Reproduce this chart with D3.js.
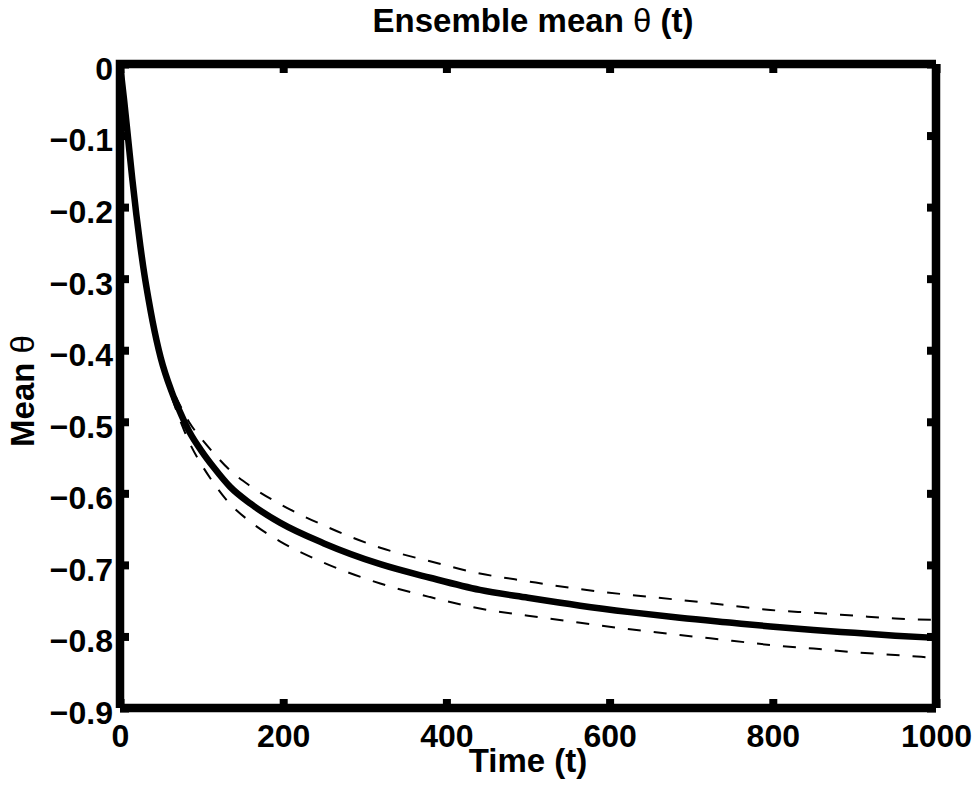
<!DOCTYPE html>
<html>
<head>
<meta charset="utf-8">
<script src="https://cdn.jsdelivr.net/npm/d3@7"></script>
<style>
  html, body { margin: 0; padding: 0; background: #fff; }
  text { font-family: "Liberation Sans", Arial, sans-serif; }
</style>
</head>
<body>
<svg id="chart" width="975" height="791"></svg>
<script>
// ---- data ----
const time = [0, 5, 10, 15, 20, 25, 30, 35, 40, 50, 63, 75, 85, 100, 115, 135, 160, 196, 250, 319, 380, 441, 500, 564, 625, 686, 750, 797, 850, 900, 950, 1000];
const meanTheta = [0, -0.05, -0.105, -0.16, -0.21, -0.255, -0.295, -0.329, -0.36, -0.411, -0.457, -0.490, -0.514, -0.541, -0.564, -0.591, -0.6145, -0.641, -0.670, -0.699, -0.718, -0.735, -0.746, -0.757, -0.766, -0.774, -0.781, -0.786, -0.791, -0.795, -0.799, -0.802];
const upperTheta = [0, -0.05, -0.105, -0.16, -0.21, -0.255, -0.295, -0.329, -0.359, -0.408, -0.451, -0.480, -0.501, -0.524, -0.544, -0.568, -0.590, -0.615, -0.645, -0.676, -0.695, -0.712, -0.723, -0.734, -0.742, -0.749, -0.757, -0.763, -0.767, -0.771, -0.775, -0.777];
const lowerTheta = [0, -0.05, -0.105, -0.16, -0.21, -0.255, -0.295, -0.329, -0.361, -0.414, -0.464, -0.502, -0.529, -0.560, -0.586, -0.615, -0.640, -0.667, -0.697, -0.726, -0.745, -0.761, -0.771, -0.781, -0.790, -0.798, -0.806, -0.812, -0.817, -0.822, -0.826, -0.830];
const xTicks = [0, 200, 400, 600, 800, 1000];
const yTicks = [0, -0.1, -0.2, -0.3, -0.4, -0.5, -0.6, -0.7, -0.8, -0.9];

const svg = d3.select("#chart");
const L = 120, R = 936, T = 64, B = 708;
const x = d3.scaleLinear().domain([0, 1000]).range([L, R]);
const y = d3.scaleLinear().domain([-0.9, 0]).range([B, T]);

// curves
const line = d3.line().x(d => x(d[0])).y(d => y(d[1])).curve(d3.curveMonotoneX);
const zip = arr => time.map((t, i) => [t, arr[i]]);

svg.append("path").datum(zip(upperTheta)).attr("d", line)
  .attr("fill", "none").attr("stroke", "#000").attr("stroke-width", 2).attr("stroke-dasharray", "13,13");
svg.append("path").datum(zip(lowerTheta)).attr("d", line)
  .attr("fill", "none").attr("stroke", "#000").attr("stroke-width", 2).attr("stroke-dasharray", "13,13");
svg.append("path").datum(zip(meanTheta)).attr("d", line)
  .attr("fill", "none").attr("stroke", "#000").attr("stroke-width", 6.5).attr("stroke-linejoin", "round");

// axes with inward ticks (MATLAB style box)
const tickLen = 9;
const fmtY = d3.format(".1f");
const axB = d3.axisBottom(x).tickValues(xTicks).tickSize(-tickLen).tickPadding(16).tickFormat(d3.format("d"));
const axT = d3.axisTop(x).tickValues(xTicks).tickSize(-tickLen).tickFormat("");
const axL = d3.axisLeft(y).tickValues(yTicks).tickSize(-tickLen).tickPadding(7).tickFormat(d => d === 0 ? "0" : fmtY(d));
const axR = d3.axisRight(y).tickValues(yTicks).tickSize(-tickLen).tickFormat("");

function styleAxis(g) {
  g.select(".domain").remove();
  g.selectAll(".tick line").attr("stroke", "#000").attr("stroke-width", 8).attr("stroke-linecap", "butt");
  g.selectAll(".tick text").attr("fill", "#000").attr("font-size", 32).attr("font-weight", "bold")
    .attr("font-family", "'Liberation Sans', Arial, sans-serif");
}
svg.append("g").attr("transform", `translate(0,${B})`).call(axB).call(styleAxis);
svg.append("g").attr("transform", `translate(0,${T})`).call(axT).call(styleAxis);
svg.append("g").attr("transform", `translate(${L},0)`).call(axL).call(styleAxis)
  .selectAll(".tick text").attr("dy", "0.48em");
svg.append("g").attr("transform", `translate(${R},0)`).call(axR).call(styleAxis);

// frame lines (butt caps)
const frame = [
  [L, T, R, T], [R, T, R, B], [L, B, R, B], [L, T, L, B]
];
svg.append("g").selectAll("line").data(frame).join("line")
  .attr("x1", d => d[0]).attr("y1", d => d[1]).attr("x2", d => d[2]).attr("y2", d => d[3])
  .attr("stroke", "#000").attr("stroke-width", 8.5).attr("stroke-linecap", "butt");
svg.append("rect").attr("x", L - 4.25).attr("y", T - 4.25).attr("width", 4.25).attr("height", 4.25).attr("fill", "#000");

// title
const title = svg.append("text").attr("x", 533).attr("y", 32).attr("text-anchor", "middle")
  .attr("font-size", 33).attr("font-weight", "bold");
title.append("tspan").text("Ensemble mean ");
title.append("tspan").attr("font-weight", "normal").text("θ");
title.append("tspan").text(" (t)");

// x label
svg.append("text").attr("x", 528).attr("y", 772).attr("text-anchor", "middle")
  .attr("font-size", 33).attr("font-weight", "bold").text("Time (t)");

// y label
const yl = svg.append("text").attr("transform", "translate(34,391) rotate(-90)").attr("text-anchor", "middle")
  .attr("font-size", 33).attr("font-weight", "bold");
yl.append("tspan").text("Mean ");
yl.append("tspan").attr("font-weight", "normal").text("θ");
</script>
</body>
</html>
